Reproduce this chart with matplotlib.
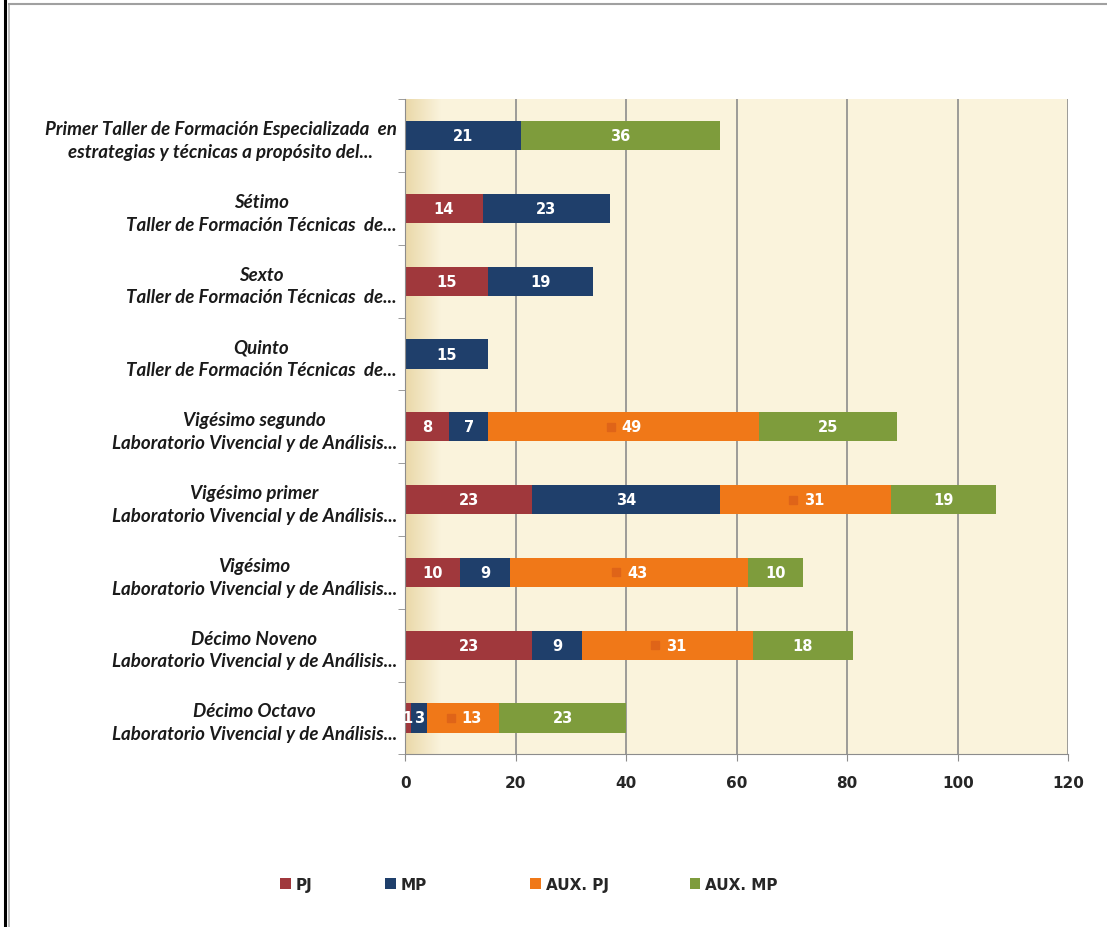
import numpy as np
import matplotlib.pyplot as plt
from matplotlib.patches import Patch
from matplotlib.lines import Line2D
from matplotlib.colors import LinearSegmentedColormap
from matplotlib.transforms import ScaledTranslation

categories = [
    'Primer Taller de Formación Especializada  en\nestrategias y técnicas a propósito del...',
    'Sétimo\nTaller de Formación Técnicas  de...',
    'Sexto\nTaller de Formación Técnicas  de...',
    'Quinto\nTaller de Formación Técnicas  de...',
    'Vigésimo segundo\nLaboratorio Vivencial y de Análisis...',
    'Vigésimo primer\nLaboratorio Vivencial y de Análisis...',
    'Vigésimo\nLaboratorio Vivencial y de Análisis...',
    'Décimo Noveno\nLaboratorio Vivencial y de Análisis...',
    'Décimo Octavo\nLaboratorio Vivencial y de Análisis...',
]
pj = [0, 14, 15, 0, 8, 23, 10, 23, 1]
mp = [21, 23, 19, 15, 7, 34, 9, 9, 3]
aux_pj = [0, 0, 0, 0, 49, 31, 43, 31, 13]
aux_mp = [36, 0, 0, 0, 25, 19, 10, 18, 23]
series_names = ['PJ', 'MP', 'AUX. PJ', 'AUX. MP']
colors = ['#A0383C', '#1F3F6B', '#F07818', '#7E9C3C']
xticks = [0, 20, 40, 60, 80, 100, 120]

series = [pj, mp, aux_pj, aux_mp]

fig = plt.figure(figsize=(11.07, 9.28), dpi=100)
ax = fig.add_axes([0.366, 0.186, 0.599, 0.706])
ax.set_facecolor('#FAF3DC')

# shading on the left edge of the plot area
grad = np.linspace(0, 1, 64).reshape(1, -1)
ax.imshow(grad, extent=[0, 6.5, -0.5, len(categories) - 0.5], aspect='auto',
          cmap=LinearSegmentedColormap.from_list('g', ['#EAD8A8', '#FAF3DC']), zorder=0.5)

y = np.arange(len(categories))
left = np.zeros(len(categories))
key_shift = ScaledTranslation(-9 / 72, 0, fig.dpi_scale_trans)
for vals, name, col in zip(series, series_names, colors):
    vals = np.array(vals, dtype=float)
    ax.barh(y, vals, left=left, height=0.4, color=col, label=name, zorder=2)
    for yi, (l, v) in enumerate(zip(left, vals)):
        if v <= 0:
            continue
        cx = l + v / 2
        if name == 'AUX. PJ':
            # small legend key that Excel draws next to the label
            ax.plot([cx], [yi], marker='s', markersize=6, color='#DF6418',
                    transform=ax.transData + key_shift, zorder=3)
            ax.annotate(str(int(v)), xy=(cx, yi), xytext=(6, 0), textcoords='offset points',
                        ha='center', va='center', color='white', fontsize=10.5,
                        fontweight='bold', zorder=4)
        else:
            ax.text(cx, yi, str(int(v)), ha='center', va='center', color='white',
                    fontsize=10.5, fontweight='bold', zorder=4)
    left = left + vals

ax.set_xlim(0, 120)
ax.set_ylim(len(categories) - 0.5, -0.5)
ax.set_xticks(xticks)
ax.set_xticklabels([str(t) for t in xticks], fontsize=11, fontweight='bold', color='#262626')
ax.tick_params(axis='x', length=5, color='#8C8C8C', pad=10)
ax.set_yticks(y)
ax.set_yticklabels(categories, fontsize=13.5, fontstyle='italic', fontweight='bold',
                   color='#1A1A1A', family=['Lato', 'DejaVu Sans'], ha='right',
                   multialignment='center', linespacing=1.4)
ax.tick_params(axis='y', length=0, pad=6)
ax.set_yticks(np.arange(len(categories) + 1) - 0.5, minor=True)
ax.tick_params(axis='y', which='minor', length=5, color='#8C8C8C')

ax.grid(axis='x', color='#8C8C8C', linewidth=1.2, zorder=1)
ax.set_axisbelow(True)
for s in ['top', 'right']:
    ax.spines[s].set_visible(False)
ax.spines['left'].set_color('#8C8C8C')
ax.spines['bottom'].set_color('#8C8C8C')

# legend entries placed like Excel spreads them
legend_x = [0.253, 0.348, 0.479, 0.623]
for name, col, lx in zip(series_names, colors, legend_x):
    fig.legend([Patch(facecolor=col, edgecolor='none')], [name], loc='center left',
               bbox_to_anchor=(lx, 0.046), frameon=False, borderpad=0, borderaxespad=0,
               handlelength=0.7, handleheight=0.7, handletextpad=0.3,
               prop={'size': 11, 'weight': 'bold'}, labelcolor='#262626')

# page border lines
fig.add_artist(Line2D([0.0045, 0.0045], [0, 1], color='black', linewidth=2.2))
fig.add_artist(Line2D([0.0085, 0.0085], [0, 0.995], color='#B0B0B0', linewidth=1.2))
fig.add_artist(Line2D([0.0085, 1], [0.9945, 0.9945], color='#A0A0A0', linewidth=1.5))

plt.savefig('out.png', dpi=100)
